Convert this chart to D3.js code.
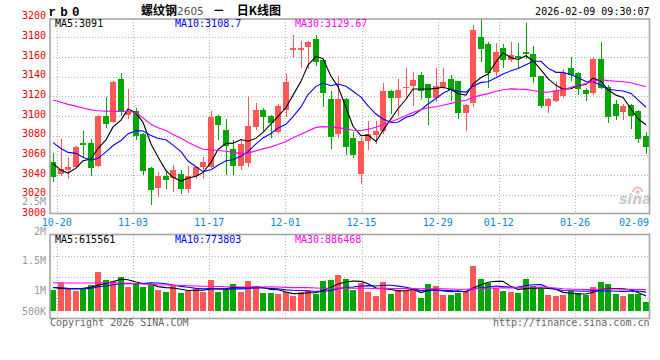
<!DOCTYPE html>
<html><head><meta charset="utf-8">
<script src="https://cdn.jsdelivr.net/npm/d3@7"></script>
<style>html,body{margin:0;padding:0;background:#fff;}svg{display:block}</style>
</head><body><svg id="c" width="660" height="360"></svg>
<script>
// ---------------- data ----------------
const dates = ["10-17","10-20","10-21","10-22","10-23","10-24","10-27","10-28","10-29","10-30","10-31",
"11-03","11-04","11-05","11-06","11-07","11-10","11-11","11-12","11-13","11-14",
"11-17","11-18","11-19","11-20","11-21","11-24","11-25","11-26","11-27","11-28",
"12-01","12-02","12-03","12-04","12-05","12-08","12-09","12-10","12-11","12-12",
"12-15","12-16","12-17","12-18","12-19","12-22","12-23","12-24","12-25","12-26",
"12-29","12-30","12-31","01-05","01-06","01-07","01-08","01-09",
"01-12","01-13","01-14","01-15","01-16","01-19","01-20","01-21","01-22","01-23",
"01-26","01-27","01-28","01-29","01-30","02-02","02-03","02-04","02-05","02-06","02-09"];

const open  = [3053,3041,3045.5,3048.5,3072.5,3072.5,3049,3100.5,3094,3138,
3101,3105.5,3082,3047.5,3026.5,3039.5,3037.5,3041.5,3025.5,3039.5,
3048,3048,3100.5,3085.5,3066,3049,3052,3089,3106,3100,
3084,3106,3167,3167,3170.5,3178,3157,3117,3082,3117,
3077.5,3041,3075,3081,3085,3125.5,3118.5,3128,3130,3142,
3132.5,3118,3129,3138,3135.5,3103,3113,3180.5,3173,3145,
3169,3157,3161,3165,3163,3140.5,3110.5,3115.5,3120,3149,
3143.5,3126.5,3123,3157.5,3129,3112,3104.5,3111,3105,3080];
const high  = [3062,3077,3057,3070,3084.5,3077,3101,3119.5,3136,3144,
3127,3108,3083,3048,3043.5,3045.5,3050.5,3045.5,3049.5,3049.5,
3058,3105,3101,3097,3076,3076,3119,3113,3108,3101,
3112,3143,3182,3176,3176,3182,3158,3125,3141,3118,
3083.5,3079,3095,3094.5,3134,3126,3138,3149,3145,3145,
3133,3149,3148.5,3142,3136,3112,3192,3199,3175,3174,
3173.5,3175,3174,3195,3171.5,3141,3118,3135,3148,3160,
3145,3128,3159.5,3175,3131,3116.5,3112,3112,3106,3083.5];
const low   = [3033,3039,3036,3047,3057.5,3039,3048,3087.5,3093,3100.5,
3097,3076,3040.5,3009.5,3017.5,3025.5,3022.5,3021,3022,3035.5,
3035.5,3047,3076,3040.5,3040.5,3045,3048,3086,3085,3078,
3082,3099,3159,3148.5,3148,3151,3109.5,3066,3077.5,3060.5,
3057,3031,3065,3071.5,3081.5,3102,3099.5,3117,3110,3117.5,
3091,3114,3127,3115,3097,3085,3109.5,3155,3128,3141,
3148.5,3155,3148.5,3158,3134,3108,3103.5,3114,3118,3136,
3121,3115,3121,3127,3093,3096,3096,3086.5,3073,3061.5];
const close = [3038,3046,3048.5,3069,3071,3047,3100.5,3091.5,3134.5,3105.5,
3104,3079.5,3044.5,3024.5,3039,3035,3045.5,3025.5,3039.5,3048,
3053.5,3098.5,3090.5,3070,3049.5,3072,3090,3106,3099,3093,
3110,3135,3169,3169,3175.5,3155,3123,3079,3117,3069,
3060,3075,3081.5,3085,3125.5,3118.5,3126.5,3129.5,3137,3125.5,
3118,3130.5,3135,3126,3103.5,3111,3187,3168,3144,3165.5,
3157,3162,3159,3163,3140,3110.5,3117.5,3125,3143.5,3142,
3127,3122.5,3157.5,3128,3098.5,3099.5,3110.5,3100.5,3077,3068];
const volume = [856000,1160000,920000,820000,920000,1070000,1600000,1270000,1190000,1390000,
980000,1130000,980000,1070000,860000,780000,1030000,740000,820000,910000,
780000,1270000,780000,880000,1100000,780000,1230000,970000,740000,740000,
690000,780000,620000,780000,880000,690000,1230000,1270000,1480000,1310000,
870000,1160000,780000,620000,1190000,690000,860000,840000,860000,540000,
1100000,1020000,650000,660000,750000,840000,1860000,1310000,1160000,950000,
820000,780000,740000,1310000,1030000,890000,650000,620000,650000,830000,
740000,670000,980000,1190000,1100000,690000,620000,690000,720000,380000];

// moving-average values at the left edge (window reaches before the first candle)
const ma5Head  = [3051.5,3045,3042,3047];
const ma10Head = [3073,3067,3063,3062,3058,3055,3057,3063.5,3070];
const ma30Head = [3116.3,3114,3111.8,3110,3108.2,3106.2,3105.4,3105,3104.8,3104.7,3104.5,3103.5,3098,3091.5,3088,
3085.3,3081.3,3077.4,3073.3,3069.2,3066.2,3065.7,3065,3064.1,3063,3062,3062.3,3064.6,3066.6];
const vma5Head  = [970000,930000,920000,910000];
const vma10Head = [970000,960000,930000,920000,920000,930000,1000000,1030000,1080000];
const vma30Head = [1160000,1160000,1150000,1150000,1150000,1150000,1160000,1160000,1160000,1150000,1140000,1130000,1110000,1100000,1080000,
1070000,1060000,1050000,1040000,1030000,1020000,1010000,1010000,1000000,1000000,990000,990000,990000,990000];

const priceTicks = [3000,3020,3040,3060,3080,3100,3120,3140,3160,3180,3200];
const volTicks = [2500000,2000000,1500000,1000000,500000];
const volTickText = ["2.5M","2M","1.5M","1M","500K"];
const dateTicks = ["10-20","11-03","11-17","12-01","12-15","12-29","01-12","01-26","02-09"];
const priceLegend = ["MA5:3091","MA10:3108.7","MA30:3129.67"];
const volLegend = ["MA5:615561","MA10:773803","MA30:886468"];
const legendColors = ["#000000","#0000ff","#ff00ff"];

// ---------------- helpers ----------------
function movingAvg(vals, n, head){
  return vals.map((v,i)=> i < n-1 ? head[i] : d3.mean(vals.slice(i-n+1, i+1)));
}
const ma = [movingAvg(close,5,ma5Head), movingAvg(close,10,ma10Head), movingAvg(close,30,ma30Head)];
const vma = [movingAvg(volume,5,vma5Head), movingAvg(volume,10,vma10Head), movingAvg(volume,30,vma30Head)];

const MONO = "'DejaVu Sans Mono', 'Liberation Mono', monospace";
const UP = "#ff5656", DOWN = "#00a800";
const svg = d3.select("#c");
svg.append("rect").attr("width",660).attr("height",360).attr("fill","#fff");

const N = dates.length;
const x = d3.scaleBand().domain(d3.range(N)).range([50,649]).paddingInner(0.2);
const bw = Math.round(x.bandwidth());
const x0 = i => Math.round(x(i));
const cx = i => x0(i) + bw/2;
const gridX = d3.scaleLinear().domain([0, N-1]).range([49.1, 651.2]);
const y = d3.scaleLinear().domain([3000,3200]).range([214.4,17.6]);
const yv = d3.scaleLinear().domain([0,3170000]).range([311,234]);
const yvLabel = d3.scaleLinear().domain([1000000,2500000]).range([293.6,205.3]);

const PT=19, PB=213.5, VT=234.5, VB=318.5, LX=50, RX=649.5;
const gridC = "#b4b4b4";
const g = svg.append("g");

// grid: price
g.selectAll(".hp").data(priceTicks.filter(t=>t>3000&&t<3200)).join("line")
  .attr("x1",LX).attr("x2",RX).attr("y1",d=>Math.round(y(d))+0.5).attr("y2",d=>Math.round(y(d))+0.5)
  .attr("stroke",gridC).attr("stroke-dasharray","1,2").attr("shape-rendering","crispEdges");
const tickIdx = dateTicks.map(t=>dates.indexOf(t));
const vIdx = tickIdx.filter(i=>gridX(i) < RX-2);
g.selectAll(".vp").data(vIdx).join("line")
  .attr("x1",i=>Math.round(gridX(i))+0.5).attr("x2",i=>Math.round(gridX(i))+0.5).attr("y1",PT).attr("y2",PB)
  .attr("stroke",gridC).attr("stroke-dasharray","1,2").attr("shape-rendering","crispEdges");
// grid: volume
g.selectAll(".hv").data([1,2,3]).join("line")
  .attr("x1",LX).attr("x2",RX).attr("y1",k=>Math.round(VT+(VB-VT)*k/4)+0.5).attr("y2",k=>Math.round(VT+(VB-VT)*k/4)+0.5)
  .attr("stroke",gridC).attr("stroke-dasharray","1,2").attr("shape-rendering","crispEdges");
g.selectAll(".vv").data(vIdx).join("line")
  .attr("x1",i=>Math.round(gridX(i))+0.5).attr("x2",i=>Math.round(gridX(i))+0.5).attr("y1",VT).attr("y2",VB)
  .attr("stroke",gridC).attr("stroke-dasharray","1,2").attr("shape-rendering","crispEdges");

// watermark
const wm = svg.append("g").attr("opacity",0.55);
wm.append("path").attr("d","M633,192 a4.5,4.5 0 1 1 9,0").attr("fill","none").attr("stroke","#f08080").attr("stroke-width",2);
wm.append("circle").attr("cx",637.5).attr("cy",192).attr("r",2).attr("fill","#f08080");
wm.append("text").attr("x",619).attr("y",204).attr("font-family","'DejaVu Sans',sans-serif").attr("font-style","italic")
  .attr("font-weight","bold").attr("font-size",14).attr("fill","#a0a0a0").text("sina");

// candles
const cg = svg.append("g").attr("shape-rendering","crispEdges");
d3.range(N).forEach(i=>{
  const up = close[i] >= open[i];
  const col = up ? UP : DOWN;
  const top = Math.round(y(Math.max(open[i],close[i])));
  const bot = Math.round(y(Math.min(open[i],close[i])));
  cg.append("rect").attr("x",x0(i)+Math.floor(bw/2)).attr("width",1)
    .attr("y",Math.round(y(high[i]))).attr("height",Math.max(1,Math.round(y(low[i]))-Math.round(y(high[i]))))
    .attr("fill",col);
  cg.append("rect").attr("x",x0(i)).attr("width",bw).attr("y",top).attr("height",Math.max(1,bot-top)).attr("fill",col);
  // volume
  const vt = Math.round(yv(volume[i]));
  cg.append("rect").attr("x",x0(i)).attr("width",bw).attr("y",vt).attr("height",Math.round(yv(0))-vt).attr("fill",col);
});

// MA lines
const lineP = d3.line().x((d,i)=>cx(i)).y(d=>y(d));
const lineV = d3.line().x((d,i)=>cx(i)).y(d=>yv(d));
ma.forEach((s,k)=>svg.append("path").attr("d",lineP(s)).attr("fill","none").attr("stroke",legendColors[k]).attr("stroke-width",1.1));
vma.forEach((s,k)=>svg.append("path").attr("d",lineV(s)).attr("fill","none").attr("stroke",legendColors[k]).attr("stroke-width",1.1));

// frames
[[PT,PB],[VT,VB]].forEach(([t,b])=>{
  svg.append("rect").attr("x",LX).attr("y",t).attr("width",RX-LX).attr("height",b-t)
    .attr("fill","none").attr("stroke","#a6a6a6").attr("stroke-width",1.6);
});

// axis labels
svg.selectAll(".pl").data(priceTicks).join("text")
  .attr("x",46).attr("y",d=>y(d)+1.6).attr("text-anchor","end")
  .attr("font-family",MONO).attr("font-size",10).attr("fill","#ee0000").text(d=>d);
svg.selectAll(".vl").data(volTicks).join("text")
  .attr("x",46).attr("y",d=>Math.min(yvLabel(d), VB-3.8)).attr("text-anchor","end")
  .attr("font-family",MONO).attr("font-size",10).attr("fill","#9a9a9a").text((d,i)=>volTickText[i]);
svg.selectAll(".dl").data(tickIdx).join("text")
  .attr("x",i=>Math.min(gridX(i), RX-15.5)).attr("y",225.5).attr("text-anchor","middle")
  .attr("font-family",MONO).attr("font-size",10).attr("fill","#0a88d8").text((i,k)=>dateTicks[k]);

// legends
const legX = [55,175,295];
priceLegend.forEach((t,k)=>svg.append("text").attr("x",legX[k]).attr("y",27.3)
  .attr("font-family",MONO).attr("font-size",10).attr("fill",legendColors[k]).text(t));
volLegend.forEach((t,k)=>svg.append("text").attr("x",legX[k]).attr("y",242.7)
  .attr("font-family",MONO).attr("font-size",10).attr("fill",legendColors[k]).text(t));

// header
svg.append("text").attr("x",48.5).attr("y",15.8).attr("font-family","'Liberation Mono',monospace")
  .attr("font-weight","bold").attr("font-size",12.5).attr("letter-spacing",4.3).attr("fill","#000").text("rb0");
const title = svg.append("text").attr("x",141).attr("y",14.5).attr("fill","#000")
  .attr("font-family","'Noto Sans CJK SC',sans-serif").attr("font-size",12).attr("font-weight","bold");
title.append("tspan").text("螺纹钢");
title.append("tspan").attr("font-family","'DejaVu Sans',sans-serif").attr("font-weight","normal").attr("font-size",10.5).attr("fill","#555").text("2605");
title.append("tspan").attr("dx",9).text("－");
title.append("tspan").attr("dx",12).text("日K线图");
svg.append("text").attr("x",649.5).attr("y",15).attr("text-anchor","end").attr("font-family",MONO)
  .attr("font-size",10).attr("fill","#000").text("2026-02-09 09:30:07");

// footer
svg.append("text").attr("x",50).attr("y",326).attr("font-family",MONO).attr("font-size",10).attr("fill","#666").text("Copyright 2026 SINA.COM");
svg.append("text").attr("x",649.5).attr("y",326).attr("text-anchor","end").attr("font-family",MONO).attr("font-size",10).attr("fill","#666").text("http://finance.sina.com.cn");
</script></body></html>
